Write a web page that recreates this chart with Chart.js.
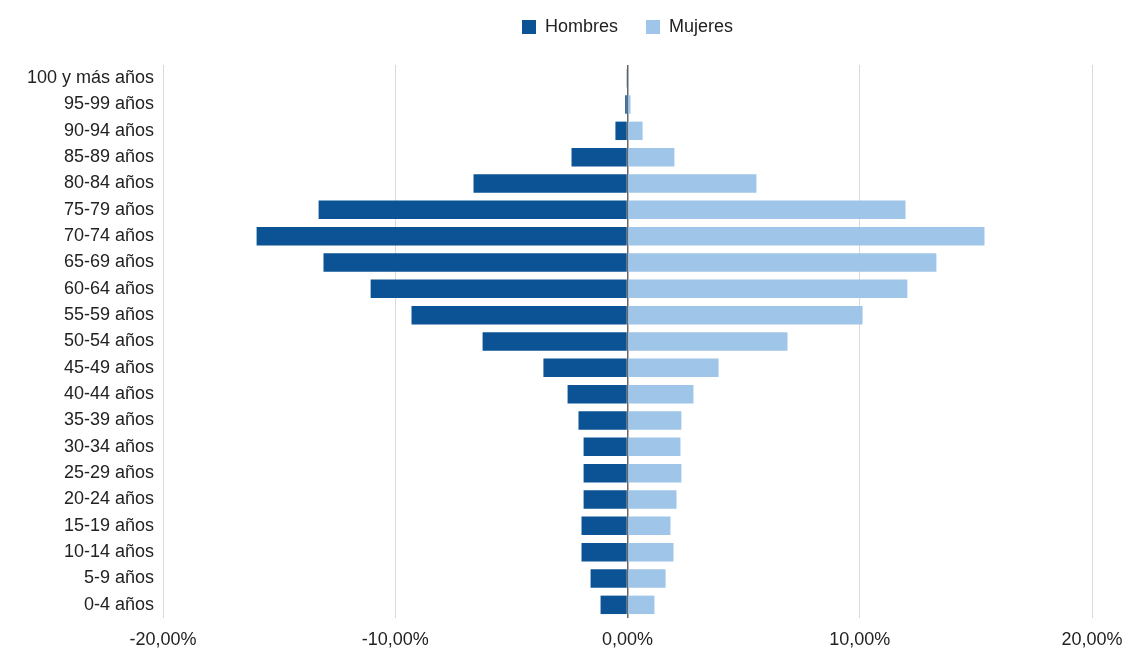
<!DOCTYPE html>
<html>
<head>
<meta charset="utf-8">
<script src="https://cdn.jsdelivr.net/npm/chart.js@4/dist/chart.umd.min.js"></script>
<style>
    body { margin: 0; background: #fff; }
    #wrap { width: 1129px; height: 650px; }
</style>
</head>
<body>
<div id="wrap"><canvas id="pyramid"></canvas></div>
<script>
const ageGroups = ['100 y más años', '95-99 años', '90-94 años', '85-89 años', '80-84 años',
    '75-79 años', '70-74 años', '65-69 años', '60-64 años', '55-59 años', '50-54 años',
    '45-49 años', '40-44 años', '35-39 años', '30-34 años', '25-29 años', '20-24 años',
    '15-19 años', '10-14 años', '5-9 años', '0-4 años'];

// porcentajes (hombres en negativo para el lado izquierdo)
const hombres = [-0.02, -0.1, -0.52, -2.41, -6.63, -13.3, -15.97, -13.09, -11.06, -9.3, -6.24,
    -3.62, -2.58, -2.11, -1.89, -1.89, -1.89, -1.98, -1.98, -1.59, -1.16];
const mujeres = [0.03, 0.13, 0.65, 2.02, 5.55, 11.97, 15.37, 13.3, 12.05, 10.12, 6.89,
    3.92, 2.84, 2.32, 2.28, 2.32, 2.11, 1.85, 1.98, 1.64, 1.16];

const xTicks = [-20, -10, 0, 10, 20];

const fmtPct = v => v.toFixed(2).replace('.', ',') + '%';
const txtFont = { family: "'Liberation Sans', Arial, sans-serif", size: 18 };

// deja hueco fijo entre la leyenda y el área del gráfico
const legendGap = {
    id: 'legendGap',
    afterInit(chart) {
        const fit = chart.legend.fit;
        chart.legend.fit = function() {
            fit.call(this);
            this.height = 75;
        };
    }
};

const ctx = document.getElementById('pyramid').getContext('2d');
new Chart(ctx, {
    type: 'bar',
    data: {
        labels: ageGroups,
        datasets: [
            { label: 'Hombres', data: hombres, backgroundColor: '#0b5394' },
            { label: 'Mujeres', data: mujeres, backgroundColor: '#9fc5e8' }
        ]
    },
    options: {
        indexAxis: 'y',
        responsive: true,
        maintainAspectRatio: false,
        animation: false,
        layout: { padding: { left: 0, right: 37, top: -10, bottom: 0 } },
        datasets: {
            bar: { categoryPercentage: 1, barPercentage: 0.7 }
        },
        plugins: {
            legend: {
                position: 'top',
                fullSize: false,
                labels: {
                    boxWidth: 14,
                    boxHeight: 14,
                    padding: 28,
                    color: '#222',
                    font: txtFont
                }
            },
            tooltip: { enabled: false }
        },
        scales: {
            x: {
                stacked: true,
                min: xTicks[0],
                max: xTicks[xTicks.length - 1],
                afterBuildTicks: s => { s.ticks = xTicks.map(v => ({ value: v })); },
                afterFit: s => {
                    s.height = 32;
                    s.paddingLeft = 0;
                    s.paddingRight = 0;
                },
                border: { display: false },
                grid: {
                    drawTicks: false,
                    color: c => c.tick && c.tick.value === 0 ? '#666' : '#d9d9d9',
                    lineWidth: c => c.tick && c.tick.value === 0 ? 1.5 : 1
                },
                ticks: {
                    padding: 11,
                    color: '#222',
                    font: txtFont,
                    callback: v => fmtPct(v)
                }
            },
            y: {
                stacked: true,
                afterFit: s => { s.width = 163; },
                border: { display: false },
                grid: { display: false, drawTicks: false },
                ticks: {
                    padding: 9,
                    color: '#222',
                    font: txtFont
                }
            }
        }
    },
    plugins: [legendGap]
});
</script>
</body>
</html>
